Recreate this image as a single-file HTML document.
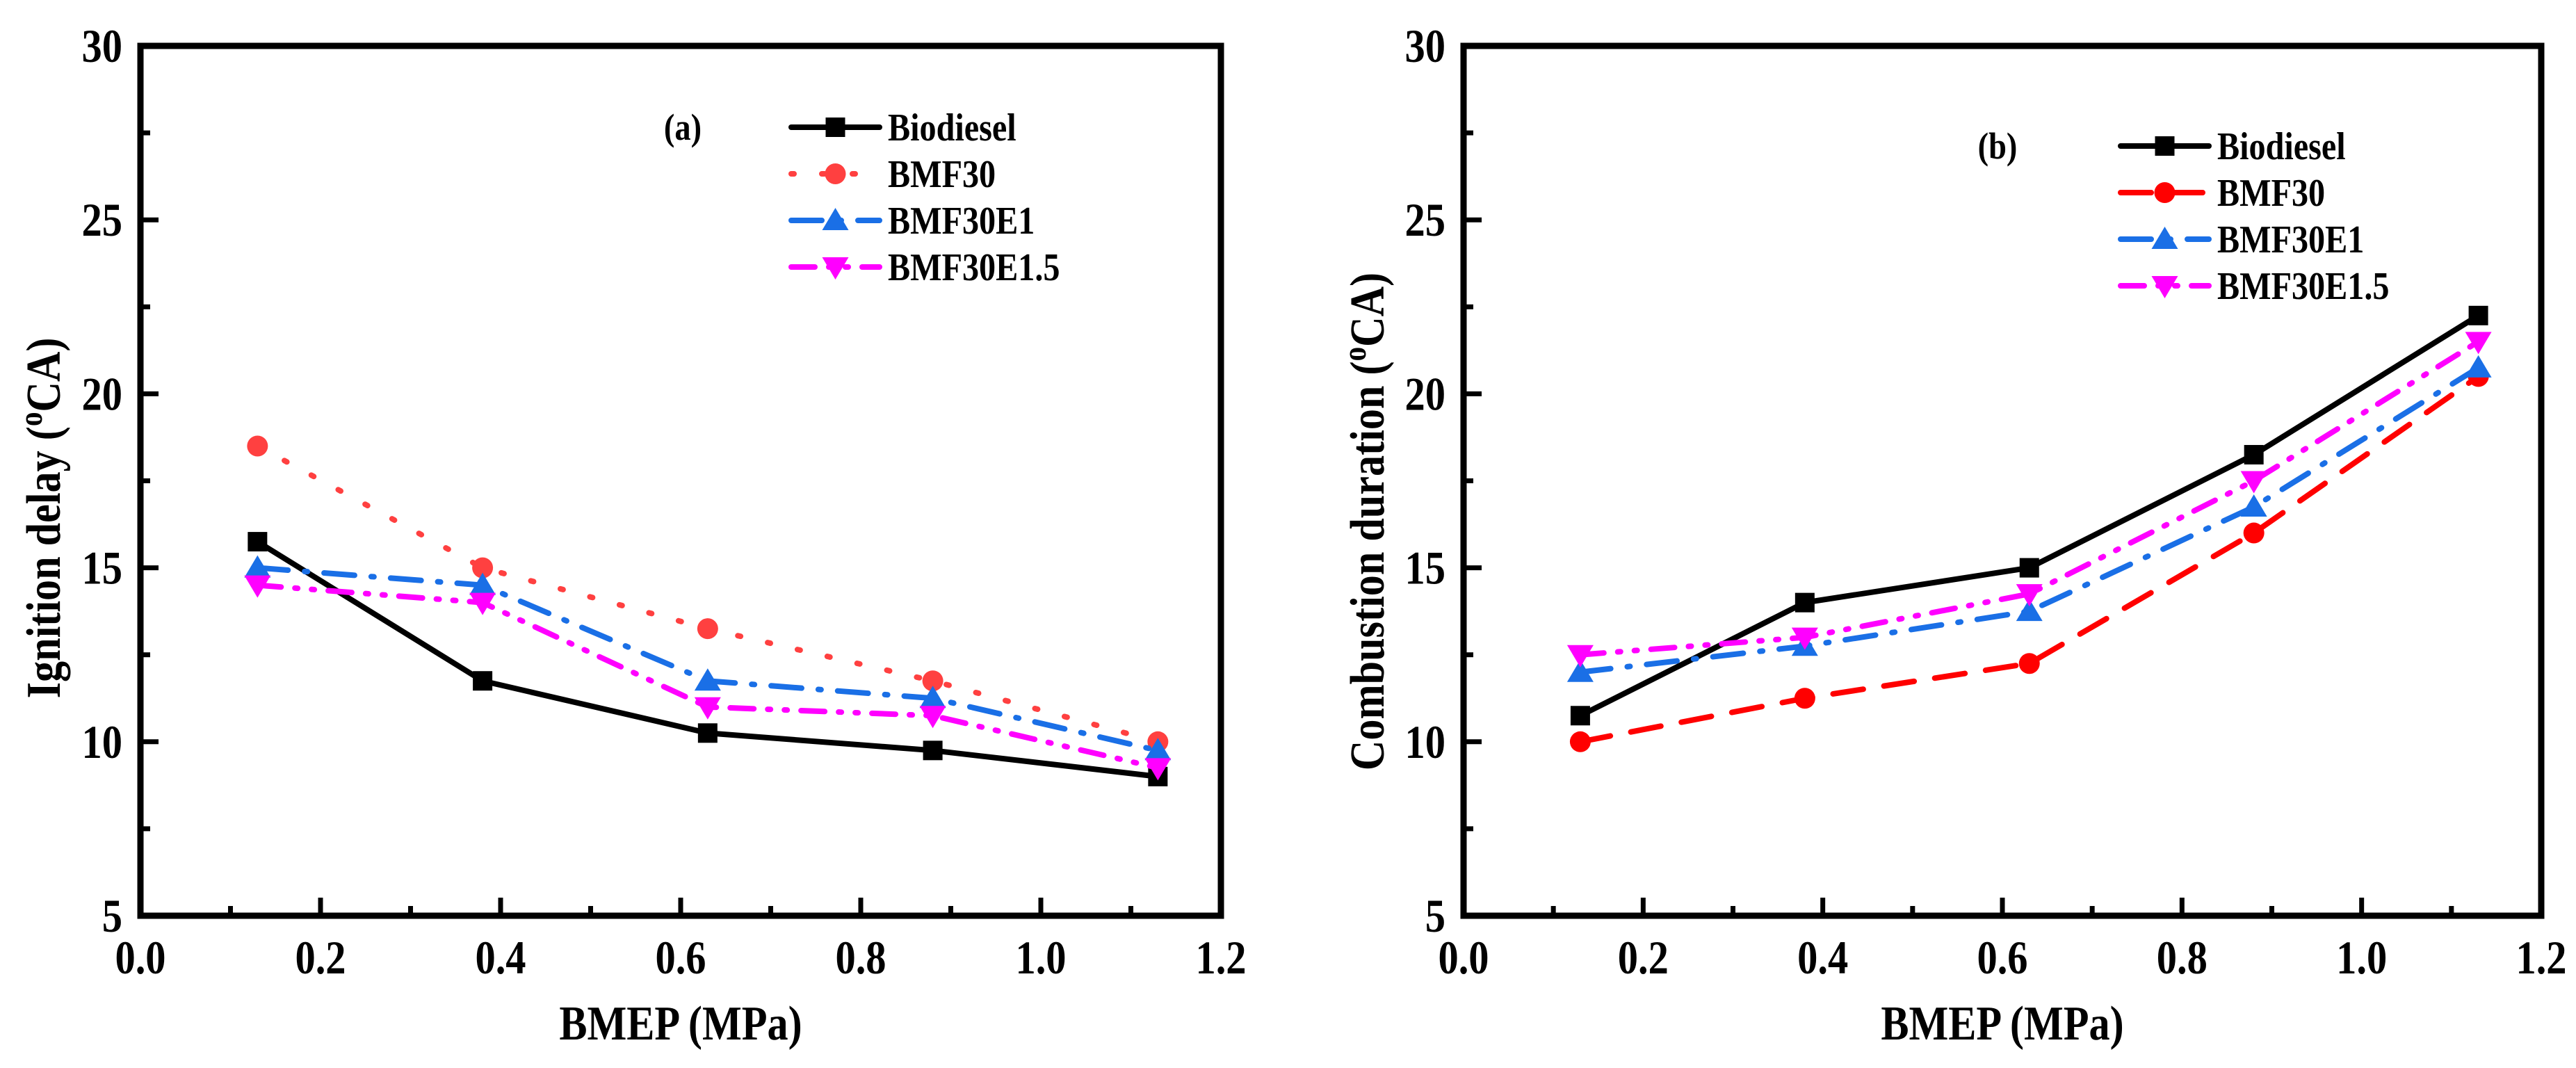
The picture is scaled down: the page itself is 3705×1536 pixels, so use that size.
<!DOCTYPE html>
<html><head><meta charset="utf-8"><style>
html,body{margin:0;padding:0;background:#fff;}
svg{display:block;font-family:"Liberation Serif",serif;font-weight:bold;}
</style></head><body>
<svg id="chart" width="3705" height="1536" viewBox="0 0 3705 1536" xmlns="http://www.w3.org/2000/svg"></svg>
<script>
const xValues = [0.13, 0.38, 0.63, 0.88, 1.13];
const seriesNames = ["Biodiesel", "BMF30", "BMF30E1", "BMF30E1.5"];
const ignitionBiodiesel = [15.75, 11.75, 10.25, 9.75, 9.0];
const ignitionBMF30 = [18.5, 15.0, 13.25, 11.75, 10.0];
const ignitionBMF30E1 = [15.0, 14.5, 11.75, 11.25, 9.75];
const ignitionBMF30E15 = [14.5, 14.0, 11.0, 10.75, 9.25];
const durationBiodiesel = [10.75, 14.0, 15.0, 18.25, 22.25];
const durationBMF30 = [10.0, 11.25, 12.25, 16.0, 20.5];
const durationBMF30E1 = [12.0, 12.75, 13.75, 16.75, 20.75];
const durationBMF30E15 = [12.5, 13.0, 14.25, 17.5, 21.5];
const xTicks = ["0.0", "0.2", "0.4", "0.6", "0.8", "1.0", "1.2"];
const yTicks = ["5", "10", "15", "20", "25", "30"];

const NS = "http://www.w3.org/2000/svg";
const svg = document.getElementById("chart");
function mk(tag, attrs, parent) {
  const e = document.createElementNS(NS, tag);
  for (const k in attrs) e.setAttribute(k, attrs[k]);
  (parent || svg).appendChild(e);
  return e;
}
function txt(x, y, size, anchor, str, parent, rot) {
  const t = mk("text", {x: 0, y: 0, "font-size": size, "text-anchor": anchor,
    transform: `translate(${x},${y})` + (rot ? " rotate(-90)" : "") + " scale(0.86,1)"}, parent);
  t.textContent = str;
  return t;
}

function panel(cfg) {
  const g = mk("g", {});
  
  
  const L = cfg.left, R = cfg.right, T = 66, B = 1317;
  const xs = v => L + (v - 0) / 1.2 * (R - L);
  const ys = v => B - (v - 5) / 25 * (B - T);
  for (let i = 0; i <= 12; i++) {
    const x = xs(i * 0.1);
    const len = i % 2 === 0 ? 26 : 14;
    const t = mk("line", {x1: x, y1: B, x2: x, y2: B - len, stroke: "#000", "stroke-width": 7}, g);
    
    
  }
  for (let i = 0; i <= 10; i++) {
    const y = ys(5 + i * 2.5);
    const len = i % 2 === 0 ? 26 : 14;
    const t = mk("line", {x1: L, y1: y, x2: L + len, y2: y, stroke: "#000", "stroke-width": 7}, g);
    
    
  }
  xTicks.forEach((s, i) => {
    const t = txt(xs(i * 0.2), 1400, 68, "middle", s, g);
    
    
  });
  yTicks.forEach((s, i) => {
    const t = txt(L - 26, ys(5 + i * 5) + 23, 68, "end", s, g);
    
    
  });
  const markers = (type, x, y, color, parent) => {
    let m;
    if (type === "square") m = mk("rect", {x: x - 14, y: y - 14, width: 28, height: 28, fill: color}, parent);
    else if (type === "circle") m = mk("circle", {cx: x, cy: y, r: 15, fill: color}, parent);
    else if (type === "up") m = mk("polygon", {points: `${x},${y-18} ${x-19},${y+14} ${x+19},${y+14}`, fill: color}, parent);
    else m = mk("polygon", {points: `${x},${y+18} ${x-19},${y-14} ${x+19},${y-14}`, fill: color}, parent);
    return m;
  };
  cfg.series.forEach((s, si) => {
    const sg = mk("g", {}, g);
    
    
    const pts = s.values.map((v, i) => xs(xValues[i]) + "," + ys(v)).join(" ");
    const pl = mk("polyline", {points: pts, fill: "none", stroke: s.color, "stroke-width": 8, "stroke-dasharray": s.dash, "stroke-linecap": "round", "stroke-linejoin": "round"}, sg);
    
    
    s.values.forEach((v, i) => {
      const m = markers(s.marker, xs(xValues[i]), ys(v), s.color, sg);
      
      
    });
    const ly = cfg.legendY + si * 67;
    const lx1 = cfg.legendX, lx2 = cfg.legendX + 127;
    const ll = mk("line", {x1: lx1, y1: ly, x2: lx2, y2: ly, stroke: s.color, "stroke-width": 8, "stroke-dasharray": s.dash, "stroke-linecap": "round"}, sg);
    
    
    const lm = markers(s.marker, (lx1 + lx2) / 2, ly, s.color, sg);
    
    
    const lt = txt(lx2 + 12, ly + 19, 56, "start", seriesNames[si], sg);
    
    
  });
  const fr = mk("rect", {x: L, y: T, width: R - L, height: B - T, fill: "none", stroke: "#000", "stroke-width": 9}, g);
  
  
  const lab = txt(cfg.labelX, cfg.legendY + 18, 54, "middle", cfg.label, g);
  
  
  const xt = txt((L + R) / 2, 1495, 70, "middle", "BMEP (MPa)", g);
  
  
  const yt = mk("text", {x: 0, y: 0, "font-size": 70, "text-anchor": "middle", transform: `translate(${cfg.ytX},${cfg.ytY}) rotate(-90) scale(0.86,1)`}, g);
  yt.innerHTML = cfg.yTitle + ' (<tspan font-size="48" dy="-26">o</tspan><tspan dy="26">CA)</tspan>';
  
  
}

panel({name: "ignition-delay-panel", left: 202, right: 1756, legendX: 1138, legendY: 183, labelX: 982, label: "(a)",
  ytX: 86, ytY: 745, yTitle: "Ignition delay",
  series: [
    {values: ignitionBiodiesel, color: "#000000", dash: "none", marker: "square"},
    {values: ignitionBMF30, color: "#ff4040", dash: "4 40", marker: "circle"},
    {values: ignitionBMF30E1, color: "#1a6fe6", dash: "44 24 4 24", marker: "up"},
    {values: ignitionBMF30E15, color: "#ff00ff", dash: "34 20 4 20 4 20", marker: "down"}
  ]});
panel({name: "combustion-duration-panel", left: 2105, right: 3655, legendX: 3050, legendY: 210, labelX: 2873, label: "(b)",
  ytX: 1990, ytY: 750, yTitle: "Combustion duration",
  series: [
    {values: durationBiodiesel, color: "#000000", dash: "none", marker: "square"},
    {values: durationBMF30, color: "#ff0000", dash: "44 30", marker: "circle"},
    {values: durationBMF30E1, color: "#1a6fe6", dash: "44 24 4 24", marker: "up"},
    {values: durationBMF30E15, color: "#ff00ff", dash: "34 20 4 20 4 20", marker: "down"}
  ]});
</script>
</body></html>
